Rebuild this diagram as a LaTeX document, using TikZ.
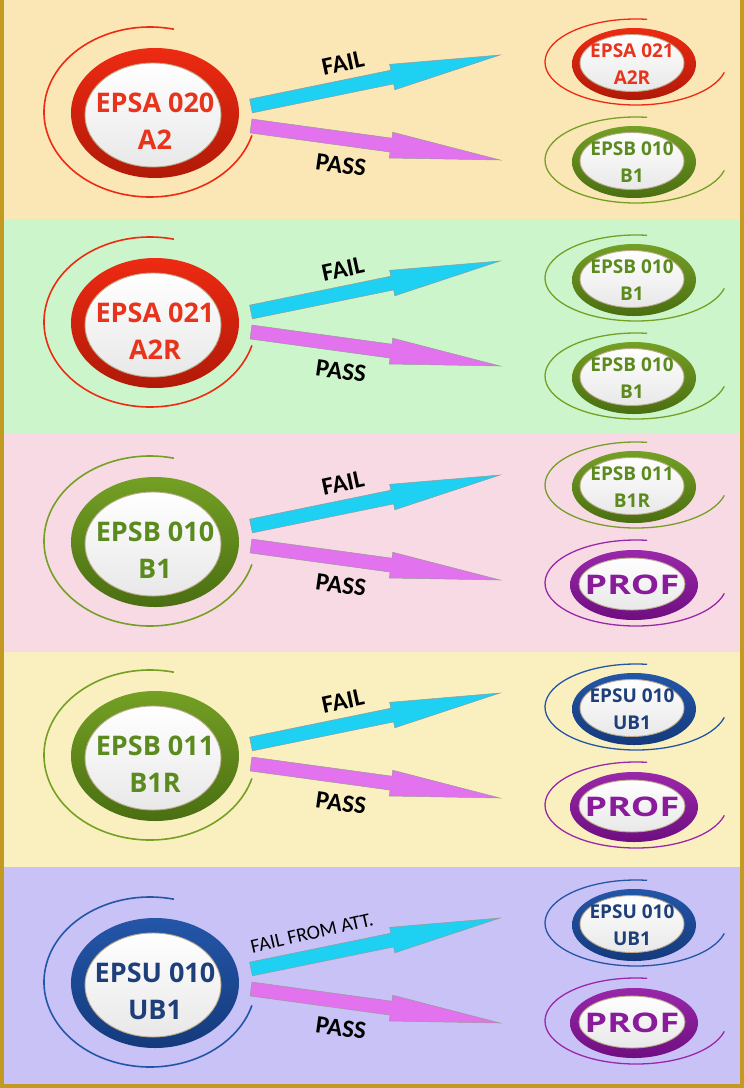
\documentclass[tikz,border=0pt]{standalone}
\usepackage{fontspec}
\setmainfont{Open Sans}
\newfontfamily\lblfont{Carlito}
\usetikzlibrary{calc,shapes.geometric}

\definecolor{bgA}{HTML}{FBE7B6}
\definecolor{bgB}{HTML}{CDF5CB}
\definecolor{bgC}{HTML}{F8DAE5}
\definecolor{bgD}{HTML}{FAF0BF}
\definecolor{bgE}{HTML}{C9C2F7}
\definecolor{frameC}{HTML}{C29A22}
\definecolor{tanB}{HTML}{BBA98A}
\definecolor{redR}{HTML}{EE2A12}\definecolor{redD}{HTML}{B01A08}\definecolor{redT}{HTML}{E8341C}
\definecolor{grnR}{HTML}{74A024}\definecolor{grnD}{HTML}{4A6E12}\definecolor{grnT}{HTML}{5B8A1E}
\definecolor{bluR}{HTML}{2456A8}\definecolor{bluD}{HTML}{143A7C}\definecolor{bluT}{HTML}{1E3F7A}
\definecolor{purR}{HTML}{9A28AA}\definecolor{purD}{HTML}{6E0E80}\definecolor{purT}{HTML}{8A1C9C}
\definecolor{cyanA}{HTML}{1ED0F2}
\definecolor{magA}{HTML}{E272EE}

\tikzset{
  lbl/.style={font=\lblfont\bfseries\fontsize{25}{30}\selectfont, inner sep=0pt, text=black},
  lblsmall/.style={font=\lblfont\fontsize{20}{24}\selectfont, inner sep=0pt, text=black},
  whiteface/.style={ellipse, top color=white, bottom color=black!9, draw=tanB, line width=0.9pt, inner sep=0pt},
}

% big ring: name, coord, colour prefix, line1, line2
\newcommand{\BigRing}[5]{%
  \draw[#3R, line width=1.6pt] #2 ++(-5,-1) ++(283:106 and 85) arc[start angle=283, end angle=16, x radius=106, y radius=85];
  \node[ellipse, minimum width=168pt, minimum height=130pt, top color=#3R, middle color=#3R, bottom color=#3D, inner sep=0pt] (#1r) at #2 {};
  \node[whiteface, minimum width=136pt, minimum height=104pt] (#1w) at ($#2+(-2,2)$) {};
  \node[text=#3T, font=\bfseries\fontsize{27}{37}\selectfont, align=center, inner sep=0pt] (#1) at ($#2+(0,8)$) {#4\\#5};
}
% small ring
\newcommand{\SmallRing}[5]{%
  \draw[#3R, line width=1.3pt] #2 ++(2,-2) ++(277:91 and 43) arc[start angle=277, end angle=14, x radius=91, y radius=43];
  \node[ellipse, minimum width=124pt, minimum height=72pt, top color=#3R, middle color=#3R, bottom color=#3D, inner sep=0pt] (#1r) at #2 {};
  \node[whiteface, minimum width=104pt, minimum height=57pt] (#1w) at ($#2+(-2,-1)$) {};
  \node[text=#3T, font=\bfseries\fontsize{19}{27}\selectfont, align=center, inner sep=0pt] (#1) at ($#2+(-2,0)$) {#4\\#5};
}
% PROF ring
\newcommand{\ProfRing}[2]{%
  \draw[purR, line width=1.3pt] #2 ++(2,-2) ++(277:91 and 43) arc[start angle=277, end angle=14, x radius=91, y radius=43];
  \node[ellipse, minimum width=128pt, minimum height=70pt, top color=purR, middle color=purR, bottom color=purD, inner sep=0pt] (#1r) at #2 {};
  \node[whiteface, minimum width=106pt, minimum height=52pt] (#1w) at ($#2+(-2,-1)$) {};
  \node[text=purT, font=\bfseries\fontsize{27}{30}\selectfont, inner sep=0pt] (#1) at ($#2+(-2,0)$) {\scalebox{1.33}[1]{PROF}};
}
% fat arrow: tail, tip, colour
\newcommand{\FatArrow}[3]{%
  \coordinate (hb) at ($(#2)!110pt!(#1)$);
  \filldraw[fill=#3, draw=black!40, line width=0.5pt, line join=miter]
    ($(#1)!7pt!90:(#2)$) -- ($(hb)!7pt!-90:(#1)$) -- ($(hb)!13pt!-90:(#1)$) -- (#2)
    -- ($(hb)!13pt!90:(#1)$) -- ($(hb)!7pt!90:(#1)$) -- ($(#1)!7pt!-90:(#2)$) -- cycle;
}

\begin{document}
\begin{tikzpicture}[x=1pt,y=-1pt]
\useasboundingbox (0,0) rectangle (744,1088);
% bands
\fill[bgA] (0,0) rectangle (744,219);
\fill[bgB] (0,219) rectangle (744,433);
\fill[bgC] (0,433) rectangle (744,652);
\fill[bgD] (0,652) rectangle (744,867);
\fill[bgE] (0,867) rectangle (744,1088);
% frame
\fill[frameC] (0,0) rectangle (4,1088);
\fill[frameC] (740,0) rectangle (744,1088);
\fill[frameC] (0,1084) rectangle (744,1088);

% ---- band 1
\BigRing{b1}{(155,113)}{red}{EPSA 020}{A2}
\SmallRing{t1}{(634,64)}{red}{EPSA 021}{A2R}
\SmallRing{u1}{(634,162)}{grn}{EPSB 010}{B1}
\coordinate (c1t) at (251,106); \coordinate (c1h) at (500,55);
\coordinate (m1t) at (251,126); \coordinate (m1h) at (500,160);
\FatArrow{c1t}{c1h}{cyanA}
\FatArrow{m1t}{m1h}{magA}
\node[lbl, rotate=12] (f1) at (343,63) {FAIL};
\node[lbl, rotate=-8] (p1) at (341,165) {PASS};

% ---- band 2
\BigRing{b2}{(155,323)}{red}{EPSA 021}{A2R}
\SmallRing{t2}{(634,280)}{grn}{EPSB 010}{B1}
\SmallRing{u2}{(634,378)}{grn}{EPSB 010}{B1}
\coordinate (c2t) at (251,312); \coordinate (c2h) at (500,261);
\coordinate (m2t) at (251,332); \coordinate (m2h) at (500,366);
\FatArrow{c2t}{c2h}{cyanA}
\FatArrow{m2t}{m2h}{magA}
\node[lbl, rotate=12] (f2) at (343,269) {FAIL};
\node[lbl, rotate=-8] (p2) at (341,371) {PASS};

% ---- band 3
\BigRing{b3}{(155,542)}{grn}{EPSB 010}{B1}
\SmallRing{t3}{(634,487)}{grn}{EPSB 011}{B1R}
\ProfRing{u3}{(634,585)}
\coordinate (c3t) at (251,526); \coordinate (c3h) at (500,475);
\coordinate (m3t) at (251,546); \coordinate (m3h) at (500,580);
\FatArrow{c3t}{c3h}{cyanA}
\FatArrow{m3t}{m3h}{magA}
\node[lbl, rotate=12] (f3) at (343,483) {FAIL};
\node[lbl, rotate=-8] (p3) at (341,585) {PASS};

% ---- band 4
\BigRing{b4}{(155,756)}{grn}{EPSB 011}{B1R}
\SmallRing{t4}{(634,709)}{blu}{EPSU 010}{UB1}
\ProfRing{u4}{(634,807)}
\coordinate (c4t) at (251,744); \coordinate (c4h) at (500,693);
\coordinate (m4t) at (251,764); \coordinate (m4h) at (500,798);
\FatArrow{c4t}{c4h}{cyanA}
\FatArrow{m4t}{m4h}{magA}
\node[lbl, rotate=12] (f4) at (343,701) {FAIL};
\node[lbl, rotate=-8] (p4) at (341,803) {PASS};

% ---- band 5
\BigRing{b5}{(155,983)}{blu}{EPSU 010}{UB1}
\SmallRing{t5}{(634,925)}{blu}{EPSU 010}{UB1}
\ProfRing{u5}{(634,1023)}
\coordinate (c5t) at (251,969); \coordinate (c5h) at (500,918);
\coordinate (m5t) at (251,989); \coordinate (m5h) at (500,1023);
\FatArrow{c5t}{c5h}{cyanA}
\FatArrow{m5t}{m5h}{magA}
\node[lblsmall, rotate=13] (f5) at (312,933) {FAIL FROM ATT.};
\node[lbl, rotate=-8] (p5) at (341,1028) {PASS};
\end{tikzpicture}
\end{document}
